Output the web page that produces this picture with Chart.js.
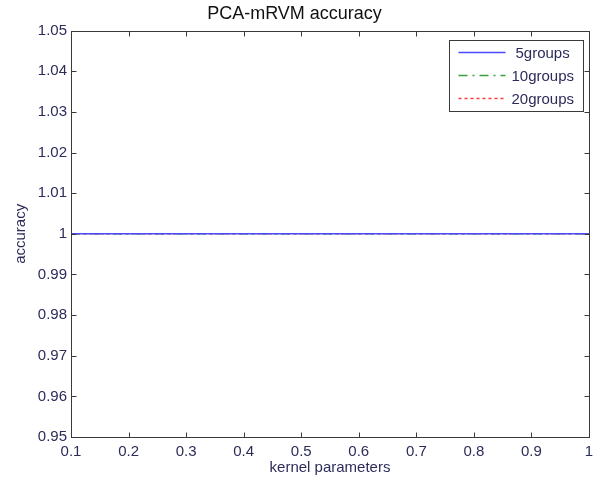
<!DOCTYPE html>
<html>
<head>
<meta charset="utf-8">
<script src="https://cdn.jsdelivr.net/npm/chart.js@4.4.0/dist/chart.umd.min.js"></script>
<style>
  html, body { margin: 0; padding: 0; background: #fff; }
  #wrap { width: 611px; height: 485px; }
</style>
</head>
<body>
<div id="wrap"><canvas id="accChart" width="611" height="485"></canvas></div>
<script>
// kernel parameter values on the x axis
const kernelParams = [0.1, 0.2, 0.3, 0.4, 0.5, 0.6, 0.7, 0.8, 0.9, 1.0];
// accuracy for each group setting (flat at 1)
const acc5groups  = [1, 1, 1, 1, 1, 1, 1, 1, 1, 1];
const acc10groups = [1, 1, 1, 1, 1, 1, 1, 1, 1, 1];
const acc20groups = [1, 1, 1, 1, 1, 1, 1, 1, 1, 1];
const seriesNames = ['5groups', '10groups', '20groups'];

const xTicks = [0.1, 0.2, 0.3, 0.4, 0.5, 0.6, 0.7, 0.8, 0.9, 1];
const yTicks = [0.95, 0.96, 0.97, 0.98, 0.99, 1, 1.01, 1.02, 1.03, 1.04, 1.05];

const textColor = '#2c2c5a';
const axisColor = '#3a3a3a';
const fontFamily = 'Arial, "Liberation Sans", sans-serif';

function toPoints(xs, ys) {
    return xs.map((x, i) => ({ x: x, y: ys[i] }));
}

// MATLAB style box with inward ticks on all four sides
const boxPlugin = {
    id: 'matlabBox',
    afterDraw(chart) {
        const { ctx, chartArea: ca, scales } = chart;
        const L = Math.round(ca.left) + 0.5, R = Math.round(ca.right) + 0.5;
        const T = Math.round(ca.top) + 0.5, B = Math.round(ca.bottom) + 0.5;
        const len = 5;
        ctx.save();
        ctx.strokeStyle = axisColor;
        ctx.lineWidth = 1;
        ctx.strokeRect(L, T, R - L, B - T);
        ctx.beginPath();
        scales.x.ticks.forEach(t => {
            const px = Math.round(scales.x.getPixelForValue(t.value)) + 0.5;
            ctx.moveTo(px, B); ctx.lineTo(px, B - len);
            ctx.moveTo(px, T); ctx.lineTo(px, T + len);
        });
        scales.y.ticks.forEach(t => {
            const py = Math.round(scales.y.getPixelForValue(t.value)) + 0.5;
            ctx.moveTo(L, py); ctx.lineTo(L + len, py);
            ctx.moveTo(R, py); ctx.lineTo(R - len, py);
        });
        ctx.stroke();
        ctx.restore();
    }
};

// legend box in the upper right corner of the plot
const legendPlugin = {
    id: 'matlabLegend',
    afterDraw(chart) {
        const { ctx, chartArea: ca } = chart;
        const w = 134, h = 71;
        const x0 = Math.round(ca.right) - 6 - w + 0.5;
        const y0 = Math.round(ca.top) + 9 + 0.5;
        ctx.save();
        ctx.fillStyle = '#fff';
        ctx.fillRect(x0, y0, w, h);
        ctx.strokeStyle = axisColor;
        ctx.lineWidth = 1;
        ctx.strokeRect(x0, y0, w, h);
        ctx.font = '15px ' + fontFamily;
        ctx.textBaseline = 'middle';
        ctx.textAlign = 'left';
        chart.data.datasets.forEach((ds, i) => {
            const cy = y0 + 12 + i * 23;
            ctx.strokeStyle = ds.borderColor;
            ctx.lineWidth = 1.5;
            ctx.setLineDash(ds.borderDash || []);
            ctx.beginPath();
            ctx.moveTo(x0 + 9, cy);
            ctx.lineTo(x0 + 56, cy);
            ctx.stroke();
            ctx.setLineDash([]);
            ctx.fillStyle = textColor;
            ctx.fillText(ds.label, x0 + 62 + (i === 0 ? 4 : 0), cy + 1);
        });
        ctx.restore();
    }
};

new Chart(document.getElementById('accChart'), {
    type: 'line',
    data: {
        datasets: [
            {
                label: seriesNames[0],
                data: toPoints(kernelParams, acc5groups),
                borderColor: '#4a4aff',
                borderWidth: 1.5,
                pointRadius: 0
            },
            {
                label: seriesNames[1],
                data: toPoints(kernelParams, acc10groups),
                borderColor: '#3aa03a',
                borderWidth: 1.5,
                borderDash: [9, 5, 2, 5],
                pointRadius: 0
            },
            {
                label: seriesNames[2],
                data: toPoints(kernelParams, acc20groups),
                borderColor: '#ff3c3c',
                borderWidth: 1.5,
                borderDash: [3, 3],
                pointRadius: 0
            }
        ]
    },
    options: {
        responsive: false,
        animation: false,
        layout: { padding: { left: 0, right: 22, top: 0, bottom: 0 } },
        scales: {
            x: {
                type: 'linear',
                min: 0.1,
                max: 1,
                afterBuildTicks: scale => { scale.ticks = xTicks.map(v => ({ value: v })); },
                afterFit: scale => { scale.height = 48; },
                grid: { display: false, drawTicks: false },
                border: { display: false },
                ticks: {
                    color: textColor,
                    padding: 6,
                    maxRotation: 0,
                    font: { size: 15, family: fontFamily },
                    callback: v => String(v)
                },
                title: {
                    display: true,
                    text: 'kernel parameters',
                    color: textColor,
                    font: { size: 15, family: fontFamily },
                    padding: { top: 0, bottom: 8 }
                }
            },
            y: {
                min: 0.95,
                max: 1.05,
                afterBuildTicks: scale => { scale.ticks = yTicks.map(v => ({ value: v })); },
                afterFit: scale => { scale.width = 71; },
                grid: { display: false, drawTicks: false },
                border: { display: false },
                ticks: {
                    color: textColor,
                    padding: 4,
                    font: { size: 15, family: fontFamily },
                    callback: v => String(Math.round(v * 100) / 100)
                },
                title: {
                    display: true,
                    text: 'accuracy',
                    color: textColor,
                    font: { size: 15, family: fontFamily },
                    padding: { top: 12, bottom: 0 }
                }
            }
        },
        plugins: {
            legend: { display: false },
            tooltip: { enabled: false },
            title: {
                display: true,
                text: 'PCA-mRVM accuracy',
                color: '#111',
                font: { size: 18, weight: 'normal', family: fontFamily },
                padding: { top: 3, bottom: 6 }
            }
        }
    },
    plugins: [boxPlugin, legendPlugin]
});
</script>
</body>
</html>
